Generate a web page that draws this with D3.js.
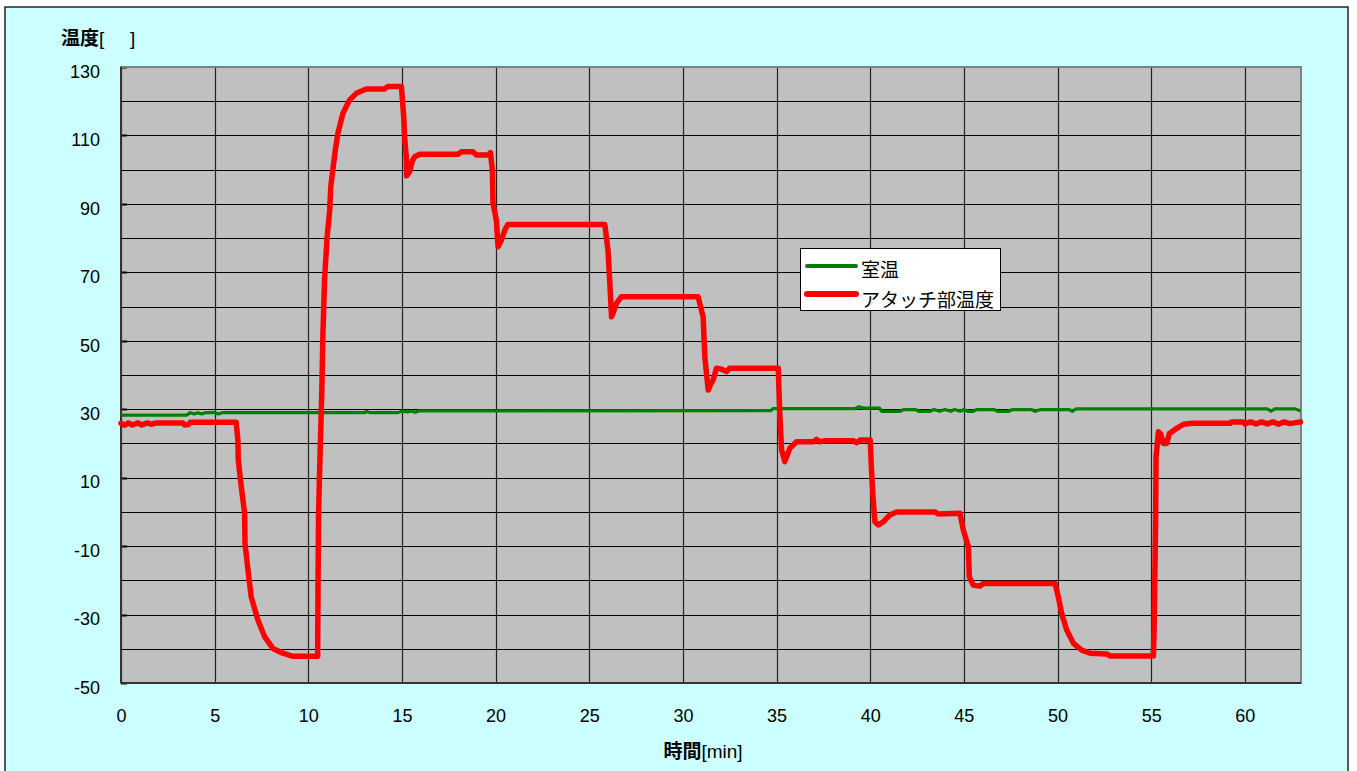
<!DOCTYPE html>
<html>
<head>
<meta charset="utf-8">
<script src="https://cdn.jsdelivr.net/npm/d3@7"></script>
<style>
  body { margin: 0; background: #fff; }
  svg { display: block; font-family: 'Liberation Sans', Arial, 'Noto Sans CJK JP', sans-serif; }
</style>
</head>
<body>
<svg id="chart" width="1357" height="771"></svg>
<script>
// series names, ticks
const seriesNames = ['室温', 'アタッチ部温度'];
const seriesColors = ['#008000', '#ff0000'];
const xTicks = [0, 5, 10, 15, 20, 25, 30, 35, 40, 45, 50, 55, 60];
const yTicks = [-50, -30, -10, 10, 30, 50, 70, 90, 110, 130];

// room temperature
const roomTime = [0, 3.5, 3.7, 3.9, 4.1, 4.3, 4.5, 5.0, 5.2, 5.4, 13.0, 13.1, 13.3, 14.8, 15.0, 15.3, 15.5, 15.7, 15.9,
  34.7, 34.8, 39.2, 39.4, 39.7, 40.5, 40.6, 41.6, 41.8, 42.4, 42.6, 43.2, 43.4, 43.7, 44.0, 44.3, 44.5, 44.8, 45.0,
  45.2, 45.5, 45.7, 46.6, 46.8, 47.4, 47.6, 48.6, 48.8, 49.1, 50.6, 50.8, 51.0, 61.2, 61.4, 61.6, 62.7, 62.97];
const roomTemp = [28.3, 28.3, 29.0, 28.6, 29.0, 28.6, 29.0, 29.0, 28.6, 29.0, 29.0, 29.4, 29.0, 29.0, 29.5, 29.2, 29.5, 29.1, 29.5,
  29.6, 30.2, 30.2, 30.7, 30.3, 30.3, 29.4, 29.4, 29.9, 29.9, 29.4, 29.4, 29.9, 29.4, 29.9, 29.4, 29.9, 29.4, 29.9,
  29.4, 29.4, 29.9, 29.9, 29.4, 29.4, 29.9, 29.9, 29.4, 29.9, 29.9, 29.4, 30.1, 30.1, 29.4, 30.1, 30.1, 29.5];

// attachment temperature
const attachTime = [0, 0.2, 0.4, 0.6, 0.9, 1.1, 1.4, 1.6, 1.9, 3.3, 3.4, 3.6, 3.7, 6.15, 6.24, 6.26, 6.42, 6.6, 6.62, 6.78,
  6.95, 7.31, 7.67, 8.11, 8.64, 9.18, 10.45, 10.5, 10.52, 10.55, 10.6, 10.72, 10.78, 10.87, 11.0, 11.14, 11.2, 11.31,
  11.45, 11.58, 11.85, 12.21, 12.56, 13.1, 14.08, 14.25, 14.97, 15.1, 15.14, 15.23, 15.25, 15.41, 15.55, 15.68, 15.95,
  17.99, 18.17, 18.8, 18.97, 19.6, 19.72, 19.83, 19.86, 20.04, 20.13, 20.31, 20.5, 20.66, 25.83, 26.0, 26.1, 26.19,
  26.3, 26.45, 26.72, 30.81, 31.08, 31.17, 31.35, 31.5, 31.61, 31.79, 32.0, 32.33, 32.5, 35.09, 35.18, 35.27, 35.44,
  35.71, 36.07, 36.96, 37.14, 37.3, 37.6, 39.09, 39.27, 39.45, 40.0, 40.07, 40.16, 40.25, 40.43, 40.7, 41.05, 41.41,
  43.46, 43.63, 44.79, 44.97, 45.24, 45.29, 45.5, 45.86, 46.04, 49.87, 50.04, 50.22, 50.49, 50.85, 51.29, 51.74,
  52.63, 52.8, 55.12, 55.16, 55.21, 55.24, 55.26, 55.39, 55.5, 55.65, 55.83, 55.97, 56.28, 56.72, 57.2, 59.21, 59.3,
  59.9, 60.0, 60.3, 60.6, 60.9, 61.2, 61.5, 61.8, 62.1, 62.4, 62.97];
const attachTemp = [25.9, 25.3, 26.0, 25.4, 26.0, 25.4, 26.0, 25.6, 26.0, 26.0, 25.4, 25.5, 26.2, 26.2, 21.0, 15.2, 7.4, -0.4, -9.2, -17.0,
  -24.8, -31.6, -36.5, -39.9, -41.3, -42.2, -42.2, -42.2, -20, 0, 11, 35, 52, 68, 80, 88, 95, 100,
  106, 110.6, 116.5, 120.4, 122.3, 123.6, 123.6, 124.3, 124.3, 115, 109.6, 103.8, 98.2, 99.4, 102.5, 103.8, 104.5,
  104.5, 105.2, 105.2, 104.3, 104.3, 105.0, 99.9, 90.2, 85.3, 77.5, 79.4, 82.5, 84.0, 84.0, 76.5, 66.8, 57.0,
  58.5, 60.9, 62.9, 62.9, 57.0, 45.3, 35.6, 37.5, 38.5, 42.0, 41.8, 41.0, 42.0, 42.0, 27.8, 18.1, 14.7,
  18.6, 20.5, 20.5, 21.2, 20.5, 20.8, 20.8, 20.2, 21.0, 21.0, 12.2, 3.5, -2.9, -3.8, -2.9, -0.9, 0.0,
  0.0, -0.6, -0.4, -5.3, -10.2, -18.9, -21.4, -21.7, -20.9, -20.9, -24.8, -29.6, -34.5, -38.4, -40.4, -41.3,
  -41.5, -42.1, -42.1, -33.6, -14.1, -0.5, 16, 23.4, 22.9, 20.0, 20.0, 22.9, 24.1, 25.6, 25.9, 25.9, 26.3,
  26.3, 25.7, 26.3, 25.7, 26.3, 25.7, 26.3, 25.6, 26.3, 25.8, 26.3];

const svg = d3.select('#chart');

// chart area
svg.append('rect')
  .attr('x', 5).attr('y', 7)
  .attr('width', 1343).attr('height', 780)
  .attr('fill', '#ccffff')
  .attr('stroke', '#222')
  .attr('stroke-width', 1.5);

const plot = { left: 121, right: 1301, top: 67, bottom: 683 };

const x = d3.scaleLinear().domain([0, 63]).range([plot.left, plot.right]);
const y = d3.scaleLinear().domain([-50, 130]).range([plot.bottom, plot.top]);

svg.append('rect')
  .attr('x', plot.left).attr('y', plot.top)
  .attr('width', plot.right - plot.left).attr('height', plot.bottom - plot.top)
  .attr('fill', '#c0c0c0');

// gridlines
svg.append('g')
  .selectAll('line')
  .data(d3.range(-50, 131, 10))
  .join('line')
    .attr('x1', plot.left).attr('x2', plot.right)
    .attr('y1', d => Math.round(y(d)) + 0.5).attr('y2', d => Math.round(y(d)) + 0.5)
    .attr('stroke', '#000')
    .attr('stroke-width', 1);

svg.append('g')
  .selectAll('line')
  .data(xTicks)
  .join('line')
    .attr('x1', d => Math.round(x(d)) + 0.5).attr('x2', d => Math.round(x(d)) + 0.5)
    .attr('y1', plot.top).attr('y2', plot.bottom)
    .attr('stroke', '#222')
    .attr('stroke-width', 1.2);

// small ticks on the y axis (inside)
svg.append('g')
  .selectAll('line')
  .data(yTicks)
  .join('line')
    .attr('x1', plot.left).attr('x2', plot.left + 6)
    .attr('y1', d => Math.round(y(d)) + 0.5).attr('y2', d => Math.round(y(d)) + 0.5)
    .attr('stroke', '#000')
    .attr('stroke-width', 2);

svg.append('rect')
  .attr('x', plot.left).attr('y', plot.top)
  .attr('width', plot.right - plot.left).attr('height', plot.bottom - plot.top)
  .attr('fill', 'none')
  .attr('stroke', '#808080')
  .attr('stroke-width', 2);

svg.append('line')
  .attr('x1', plot.left).attr('x2', plot.left)
  .attr('y1', plot.top).attr('y2', plot.bottom)
  .attr('stroke', '#333').attr('stroke-width', 2);
svg.append('line')
  .attr('x1', plot.left).attr('x2', plot.right)
  .attr('y1', plot.bottom).attr('y2', plot.bottom)
  .attr('stroke', '#333').attr('stroke-width', 2);

// axes labels
const yAxis = svg.append('g')
  .attr('transform', `translate(${plot.left},0)`)
  .call(d3.axisLeft(y).tickValues(yTicks).tickSize(0).tickPadding(21).tickFormat(d => String(d)));
yAxis.select('.domain').remove();
yAxis.selectAll('text')
  .attr('dy', '0.57em')
  .style('font-size', '18px')
  .style('font-family', "'Liberation Sans', Arial, sans-serif")
  .attr('fill', '#000');

const xAxis = svg.append('g')
  .attr('transform', `translate(0,${plot.bottom})`)
  .call(d3.axisBottom(x).tickValues(xTicks).tickSize(0).tickPadding(26).tickFormat(d => String(d)));
xAxis.select('.domain').remove();
xAxis.selectAll('text')
  .style('font-size', '18px')
  .style('font-family', "'Liberation Sans', Arial, sans-serif")
  .attr('fill', '#000');

// series
const roomData = roomTime.map((t, i) => [t, roomTemp[i]]);
const attachData = attachTime.map((t, i) => [t, attachTemp[i]]);

const line = d3.line()
  .x(d => x(d[0]))
  .y(d => y(d[1]));

svg.append('path')
  .datum(roomData)
  .attr('d', line)
  .attr('fill', 'none')
  .attr('stroke', seriesColors[0])
  .attr('stroke-width', 3.2)
  .attr('stroke-linejoin', 'round');

svg.append('path')
  .datum(attachData)
  .attr('d', line)
  .attr('fill', 'none')
  .attr('stroke', seriesColors[1])
  .attr('stroke-width', 5.5)
  .attr('stroke-linejoin', 'round')
  .attr('stroke-linecap', 'round');

// titles
const yTitle = svg.append('text')
  .attr('x', 61).attr('y', 45)
  .style('font-size', '19px')
  .attr('fill', '#000');
yTitle.append('tspan').attr('font-weight', 'bold').style('font-family', "'Noto Sans CJK JP', sans-serif").text('温度');
yTitle.append('tspan').text('[');
yTitle.append('tspan').attr('x', 130).text(']');

const xTitle = svg.append('text')
  .attr('x', 703).attr('y', 758)
  .attr('text-anchor', 'middle')
  .style('font-size', '19px')
  .attr('fill', '#000');
xTitle.append('tspan').attr('font-weight', 'bold').style('font-family', "'Noto Sans CJK JP', sans-serif").text('時間');
xTitle.append('tspan').text('[min]');

// legend
const legend = svg.append('g').attr('transform', 'translate(800,248)');
legend.append('rect')
  .attr('x', 0.5).attr('y', 0.5)
  .attr('width', 200).attr('height', 62)
  .attr('fill', '#fff')
  .attr('stroke', '#000')
  .attr('stroke-width', 1);

seriesNames.forEach((name, i) => {
  const ly = 18 + i * 28;
  legend.append('line')
    .attr('x1', 7).attr('x2', 56)
    .attr('y1', ly).attr('y2', ly)
    .attr('stroke', seriesColors[i])
    .attr('stroke-width', i === 0 ? 4 : 6)
    .attr('stroke-linecap', 'round');
  legend.append('text')
    .attr('x', 61).attr('y', ly + 4 + i * 2)
    .attr('dy', '0.35em')
    .style('font-size', '19px')
    .style('font-family', "'Noto Sans CJK JP', sans-serif")
    .attr('fill', '#000')
    .text(name);
});
</script>
</body>
</html>
